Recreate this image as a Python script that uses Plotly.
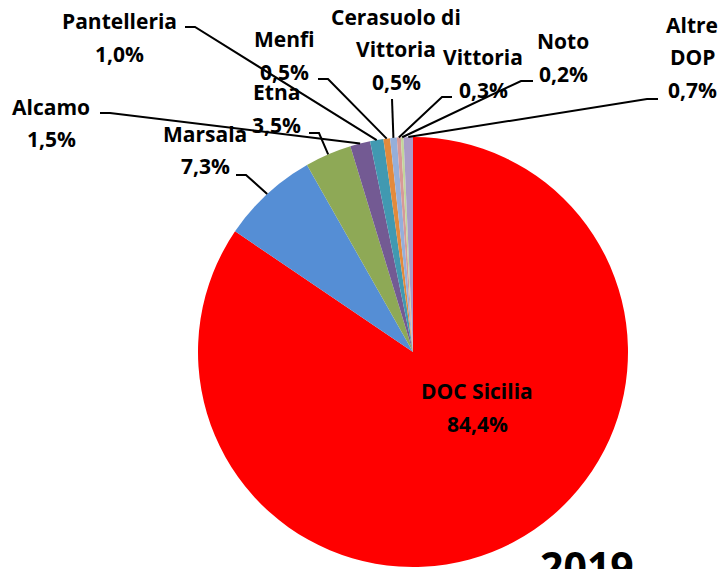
import math
import plotly.graph_objects as go

# Share of DOP wine production by denomination, Sicily 2019 (%)
denominations = ["DOC Sicilia", "Marsala", "Etna", "Alcamo", "Pantelleria",
                 "Menfi", "Cerasuolo di Vittoria", "Vittoria", "Noto", "Altre DOP"]
shares = [84.4, 7.3, 3.5, 1.5, 1.0, 0.5, 0.5, 0.3, 0.2, 0.7]
colors = ["#FF0000", "#558ED5", "#8EA956", "#735A93", "#4199B1",
          "#E38A3C", "#95AFDA", "#D79998", "#C3D69B", "#AA9CC8"]
# name lines shown in each label (the value line is appended from `shares`)
label_lines = [["DOC Sicilia"], ["Marsala"], ["Etna"], ["Alcamo"], ["Pantelleria"],
               ["Menfi"], ["Cerasuolo di", "Vittoria"], ["Vittoria"], ["Noto"],
               ["Altre", "DOP"]]
year = "2019"

W, H = 722, 569
CX, CY, R = 413, 352, 215          # pie centre and radius in pixels

# label layout: centre x, y of the first text line, line pitch (px)
label_pos = [(477, 391), (205, 134), (276, 92), (51, 107), (119, 21),
             (284, 39), (396, 17), (483, 57), (563, 41), (692, 25)]
PITCH = 32.5
# leader lines: text-side start and elbow (px); last point is on the slice
leader = [None, [(236, 175), (246, 175)], [(309, 133), (319, 133)],
          [(100, 113), (110, 113)], [(185, 27), (195, 27)],
          [(318, 79), (328, 79)], [(392, 99)], [(452, 97), (442, 97)],
          [(533, 81), (521, 81)], [(658, 99), (647, 99)]]


def px(x, y):
    return x / W, 1 - y / H


fig = go.Figure(go.Pie(
    labels=denominations, values=shares, sort=False, direction="clockwise",
    rotation=0, marker=dict(colors=colors, line=dict(width=0)),
    textinfo="none", hoverinfo="label+percent",
    domain=dict(x=[(CX - R) / W, (CX + R) / W],
                y=[1 - (CY + R) / H, 1 - (CY - R) / H]),
))

font = dict(family="Open Sans", size=21, color="#000000", weight="bold")
total = sum(shares)
annotations, shapes = [], []
cum = 0.0
for i, v in enumerate(shares):
    mid = 2 * math.pi * (cum + v / 2) / total
    cum += v
    ax, ay = CX + R * math.sin(mid), CY - R * math.cos(mid)
    lines = label_lines[i] + [f"{v:.1f}".replace(".", ",") + "%"]
    lx, ly = label_pos[i]
    for k, t in enumerate(lines):
        x, y = px(lx, ly + k * PITCH)
        annotations.append(dict(x=x, y=y, xref="paper", yref="paper", text=t,
                                showarrow=False, font=font,
                                xanchor="center", yanchor="middle"))
    if leader[i]:
        pts = leader[i] + [(ax, ay)]
        path = ""
        for j, (x, y) in enumerate(pts):
            xp, yp = px(x, y)
            path += ("M" if j == 0 else " L") + f" {xp:.5f} {yp:.5f}"
        shapes.append(dict(type="path", path=path, xref="paper", yref="paper",
                           line=dict(color="#000000", width=2), layer="above"))

x, y = px(587, 566)
annotations.append(dict(x=x, y=y, xref="paper", yref="paper", text=year,
                        showarrow=False, xanchor="center", yanchor="middle",
                        font=dict(family="Open Sans", size=41, color="#000000",
                                  weight="bold")))

fig.update_layout(width=W, height=H, autosize=False,
                  margin=dict(l=0, r=0, t=0, b=0),
                  paper_bgcolor="#FFFFFF", plot_bgcolor="#FFFFFF",
                  showlegend=False, annotations=annotations, shapes=shapes)

fig.write_html("out.html")
